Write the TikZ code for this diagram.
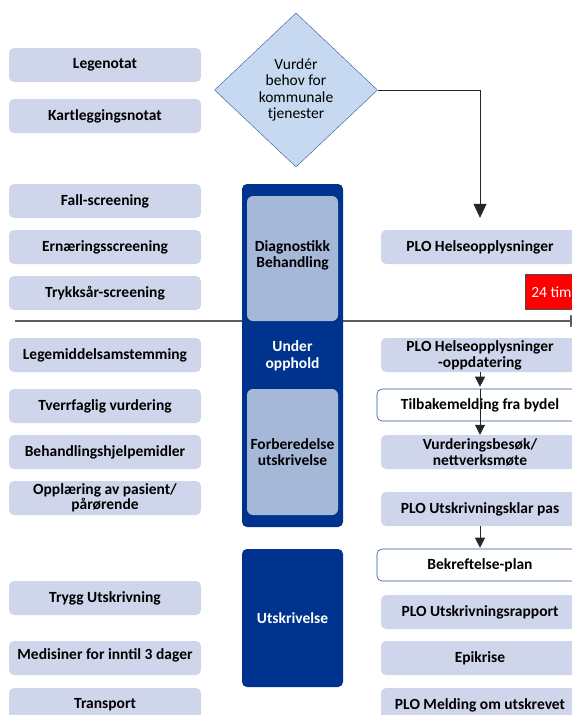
\documentclass[tikz,border=0pt]{standalone}
\usepackage{fontspec}
\setmainfont{Carlito}
\usetikzlibrary{arrows.meta,positioning,shapes.geometric}
\definecolor{boxgray}{RGB}{207,213,234}
\definecolor{darkblue}{RGB}{0,51,141}
\definecolor{innerblue}{RGB}{166,184,216}
\definecolor{diafill}{RGB}{198,217,240}
\definecolor{frameblue}{RGB}{47,85,151}
\definecolor{linegray}{RGB}{90,90,90}

\begin{document}
\begin{tikzpicture}[x=1pt, y=-1pt,
      lbox/.style={rounded corners=5pt, fill=boxgray, minimum width=192pt, minimum height=34pt,
        inner sep=0pt, align=center, font=\fontsize{15.5}{16}\selectfont\bfseries},
      rbox/.style={lbox, minimum width=198pt},
      wbox/.style={rbox, fill=white, draw=frameblue, semithick, minimum width=206pt, minimum height=32pt},
      col/.style={rounded corners=5pt, fill=darkblue, minimum width=101pt, inner sep=0pt,
        align=center, text=white, font=\fontsize{15.5}{17}\selectfont\bfseries},
      phase/.style={rounded corners=6pt, fill=innerblue, minimum width=91pt, inner sep=0pt,
        align=center, font=\fontsize{15.5}{16}\selectfont\bfseries},
      arr/.style={-{Triangle[length=10pt, width=10pt]}, semithick, black!85}
    ]
      \useasboundingbox (0,0) rectangle (572,715);
      \clip (0,0) rectangle (572,715);

      % tidslinje
      \coordinate (tstart) at (15,321);
      \coordinate (tend) at (582,321);
      \draw[line width=1.6pt, linegray, -{Triangle[length=12pt, width=12pt]}] (tstart) -- (tend);

      % venstre kolonne
      \node[lbox] (legenotat) at (105,65) {Legenotat};
      \node[lbox] (kartlegging) at (105,116) {Kartleggingsnotat};
      \node[lbox] (fall) at (105,201) {Fall-screening};
      \node[lbox] (ernaering) at (105,247) {Ernæringsscreening};
      \node[lbox] (trykksar) at (105,293) {Trykksår-screening};
      \node[lbox] (legemiddel) at (105,355) {Legemiddelsamstemming};
      \node[lbox] (tverrfaglig) at (105,406) {Tverrfaglig vurdering};
      \node[lbox] (hjelpemidler) at (105,452) {Behandlingshjelpemidler};
      \node[lbox, font=\fontsize{15.5}{14.5}\selectfont\bfseries] (opplaering) at (105,498) {Opplæring av pasient/\\pårørende};
      \node[lbox] (trygg) at (105,598) {Trygg Utskrivning};
      \node[lbox] (medisiner) at (105,658) {\raisebox{7pt}{Medisiner for inntil 3 dager}};
      \node[lbox] (transport) at (105,705) {Transport};

      % midtkolonne
      \node[col, minimum height=343pt] (opphold) at (292.5,355.5) {Under\\opphold};
      \node[phase, minimum height=125pt] (diagnostikk) at (292.5,258.5) {\raisebox{9pt}{\shortstack{Diagnostikk\\Behandling}}};
      \node[phase, minimum height=126pt] (forberedelse) at (292.5,452) {Forberedelse\\utskrivelse};
      \node[col, minimum height=138pt] (utskrivelse) at (292.5,618) {Utskrivelse};

      \node[diamond, draw=frameblue, fill=diafill, minimum width=163pt, minimum height=154pt,
        inner sep=0pt, align=center, font=\fontsize{15.5}{16.5}\selectfont] (vurder) at (296,90)
        {Vurdér\\behov for\\kommunale\\tjenester};

      % hoyre kolonne
      \node[rbox] (plohelse) at (480,247) {PLO Helseopplysninger};
      \node[draw=black!70, fill=red, text=white, minimum width=66pt, minimum height=35pt,
        inner sep=0pt, font=\fontsize{15.5}{16}\selectfont] (frist) at (558,292) {24 timer};
      \node[rbox] (plooppdatering) at (480,355) {PLO Helseopplysninger\\-oppdatering};
      \node[wbox] (tilbakemelding) at (480,405) {Tilbakemelding fra bydel};
      \node[rbox] (vurderingsbesok) at (480,452) {Vurderingsbesøk/\\nettverksmøte};
      \node[rbox] (utskrivningsklar) at (480,509) {PLO Utskrivningsklar pas};
      \node[wbox] (bekreftelse) at (480,565) {Bekreftelse-plan};
      \node[rbox] (rapport) at (480,612) {PLO Utskrivningsrapport};
      \node[rbox] (epikrise) at (480,658) {Epikrise};
      \node[rbox] (melding) at (480,705) {PLO Melding om utskrevet};

      \draw[arr, -{Triangle[length=14pt, width=13pt]}, shorten >=12pt] (vurder.east) -| (plohelse.north);
      \draw[arr, shorten >=2pt] (plooppdatering.south) -- (tilbakemelding.north);
      \draw[arr] (tilbakemelding.north) -- (vurderingsbesok.north);
      \draw[arr, shorten >=1pt] (utskrivningsklar.south) -- (bekreftelse.north);
    \end{tikzpicture}
\end{document}
